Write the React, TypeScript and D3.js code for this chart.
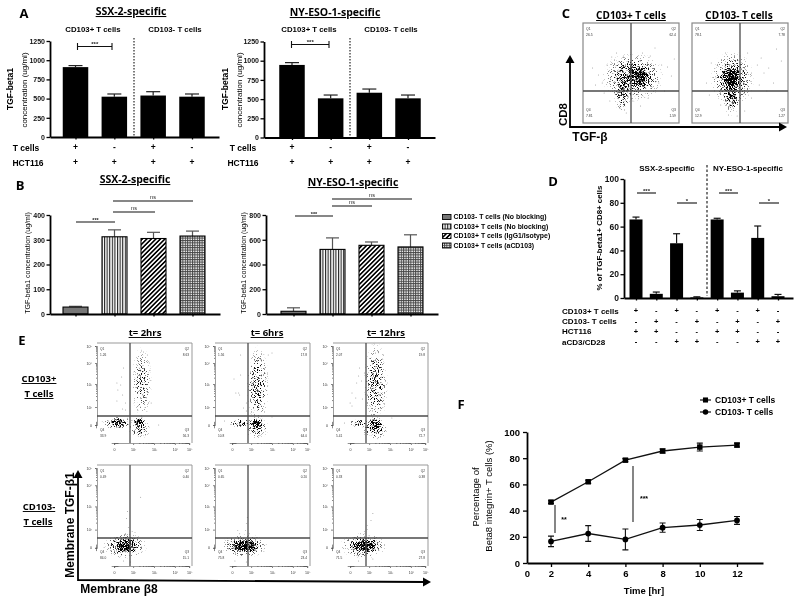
import React, { useEffect, useRef } from 'react'
import * as d3 from 'd3'

// panel A
const cellGroups = ['p1', 'p2', 'p3', 'p4']
const a1Values = [910, 525, 540, 525]
const a1Upper = [930, 560, 590, 560]
const a2Values = [945, 510, 583, 510]
const a2Upper = [975, 553, 631, 553]
const aTicks = [0, 250, 500, 750, 1000, 1250]
const aTCells = ['+', '-', '+', '-']
const aHct = ['+', '+', '+', '+']

// panel B
const b1Values = [28, 312, 305, 315]
const b1Upper = [31, 340, 330, 335]
const b2Values = [22, 522, 555, 542]
const b2Upper = [50, 615, 582, 640]
const b1Ticks = [0, 100, 200, 300, 400]
const b2Ticks = [0, 200, 400, 600, 800]
const bLegend = ['CD103- T cells (No blocking)', 'CD103+ T cells (No blocking)', 'CD103+  T cells (IgG1/Isotype)', 'CD103+ T cells (aCD103)']

// panel D
const dGroups = ['d1', 'd2', 'd3', 'd4', 'd5', 'd6', 'd7', 'd8']
const dValues = [66, 3.5, 46, 0.5, 66, 4.5, 50.5, 1.5]
const dUpper = [68, 5, 54, 1, 67, 6, 60.5, 3]
const dTicks = [0, 20, 40, 60, 80, 100]
const dRowNames = ['CD103+ T cells', 'CD103- T cells', 'HCT116', 'aCD3/CD28']
const dRows = [
  ['+', '-', '+', '-', '+', '-', '+', '-'],
  ['-', '+', '-', '+', '-', '+', '-', '+'],
  ['+', '+', '-', '-', '+', '+', '-', '-'],
  ['-', '-', '+', '+', '-', '-', '+', '+'],
]

// panel F
const hours = [2, 4, 6, 8, 10, 12]
const fTicks = [0, 20, 40, 60, 80, 100]
const fPosValues = [46.5, 62, 78.5, 85.5, 88.5, 90]
const fPosErr = [1, 1.2, 1.2, 1.5, 3, 1.5]
const fNegValues = [16.5, 22.5, 18, 27, 29, 32.5]
const fNegErr = [4, 6, 8, 3.5, 4.2, 3]

// flow cytometry: quadrant labels, clouds and stray events, as fractions of each plot
const c1Quads = ['26.5', '62.4', '7.81', '1.59']
const c1Clouds = [[0.58, 0.53, 0.14, 0.12, 0.95], [0.52, 0.54, 0.33, 0.25, 0.6], [0.41, 0.72, 0.09, 0.18, 0.5]]
const c1Dots = [[0.1, 0.45], [0.16, 0.52], [0.2, 0.6], [0.13, 0.62], [0.25, 0.42], [0.3, 0.34], [0.35, 0.3], [0.42, 0.33], [0.62, 0.3], [0.7, 0.33], [0.82, 0.42], [0.88, 0.44], [0.92, 0.53], [0.79, 0.6], [0.85, 0.68], [0.6, 0.83], [0.38, 0.85], [0.45, 0.9], [0.28, 0.78], [0.33, 0.7], [0.52, 0.78], [0.95, 0.36], [0.68, 0.75], [0.22, 0.7], [0.75, 0.25]]
const c2Quads = ['78.1', '7.78', '12.9', '1.27']
const c2Clouds = [[0.41, 0.56, 0.11, 0.15, 1], [0.42, 0.56, 0.23, 0.28, 0.6], [0.41, 0.76, 0.09, 0.17, 0.55]]
const c2Dots = [[0.2, 0.4], [0.25, 0.55], [0.15, 0.6], [0.18, 0.72], [0.3, 0.82], [0.55, 0.88], [0.62, 0.75], [0.7, 0.62], [0.68, 0.42], [0.75, 0.5], [0.8, 0.45], [0.88, 0.26], [0.93, 0.38], [0.58, 0.3], [0.5, 0.33], [0.35, 0.3], [0.85, 0.6], [0.72, 0.35], [0.38, 0.92], [0.47, 0.93], [0.78, 0.68], [0.62, 0.5]]

const eQuads = [
  ['1.26', '8.63', '33.9', '56.3'], ['1.56', '17.8', '10.8', '64.0'], ['2.07', '19.8', '5.41', '72.7'],
  ['0.49', '0.40', '84.0', '15.1'], ['0.65', '0.20', '75.8', '23.4'], ['0.33', '0.38', '71.5', '27.8'],
]
const eClouds = [
  [[0.22, 0.8, 0.11, 0.05, 0.75], [0.445, 0.795, 0.07, 0.055, 1], [0.47, 0.4, 0.11, 0.37, 0.42], [0.45, 0.86, 0.12, 0.1, 0.5], [0.22, 0.8, 0.18, 0.07, 0.5]],
  [[0.44, 0.8, 0.07, 0.05, 1], [0.27, 0.8, 0.13, 0.045, 0.65], [0.45, 0.42, 0.12, 0.4, 0.48], [0.44, 0.85, 0.13, 0.11, 0.5]],
  [[0.45, 0.805, 0.08, 0.06, 1], [0.27, 0.8, 0.11, 0.045, 0.5], [0.45, 0.4, 0.13, 0.42, 0.52], [0.44, 0.86, 0.14, 0.11, 0.55]],
  [[0.295, 0.8, 0.13, 0.07, 1.05], [0.295, 0.8, 0.24, 0.13, 0.6]],
  [[0.31, 0.8, 0.15, 0.07, 1.05], [0.31, 0.8, 0.25, 0.12, 0.6]],
  [[0.32, 0.8, 0.14, 0.07, 1.05], [0.32, 0.8, 0.25, 0.13, 0.6]],
]
const eDots = [
  [[0.21, 0.4], [0.22, 0.47], [0.25, 0.42], [0.27, 0.52], [0.26, 0.34], [0.28, 0.25], [0.3, 0.6], [0.27, 0.66], [0.21, 0.58], [0.3, 0.67], [0.12, 0.78], [0.57, 0.6], [0.55, 0.2], [0.53, 0.12], [0.49, 0.09], [0.65, 0.82]],
  [[0.2, 0.36], [0.25, 0.5], [0.27, 0.32], [0.26, 0.52], [0.22, 0.5], [0.33, 0.6], [0.3, 0.65], [0.27, 0.12], [0.6, 0.1], [0.56, 0.12], [0.6, 0.74], [0.1, 0.78], [0.33, 0.68]],
  [[0.2, 0.5], [0.25, 0.4], [0.27, 0.33], [0.3, 0.38], [0.24, 0.55], [0.18, 0.6], [0.2, 0.63], [0.31, 0.56], [0.33, 0.3], [0.28, 0.25], [0.53, 0.12], [0.52, 0.16], [0.62, 0.75], [0.12, 0.8]],
  [[0.31, 0.53], [0.32, 0.46], [0.46, 0.32], [0.33, 0.62], [0.3, 0.68], [0.37, 0.66], [0.4, 0.67], [0.28, 0.95], [0.35, 0.96]],
  [[0.33, 0.58], [0.34, 0.52], [0.24, 0.65], [0.26, 0.68], [0.32, 0.65], [0.36, 0.68], [0.33, 0.96], [0.21, 0.95]],
  [[0.42, 0.48], [0.4, 0.55], [0.36, 0.6], [0.33, 0.66], [0.29, 0.68], [0.36, 0.64], [0.38, 0.7], [0.42, 0.93], [0.27, 0.95]],
]
const flowDecades = [0, 2, 3, 4, 5]
const flowLabels = ['0', '10²', '10³', '10⁴', '10⁵']

const SANS = '"Liberation Sans", Arial, sans-serif'
const HEAD = '"Open Sans", sans-serif'

type Sel = d3.Selection<SVGGElement, unknown, null, undefined>

function label(g: Sel, x: number, y: number, s: string, size: number, opts: any = {}) {
  const t = g.append('text')
    .attr('x', x).attr('y', y)
    .attr('font-family', opts.family || SANS)
    .attr('font-size', size)
    .attr('font-weight', opts.weight || 'bold')
    .attr('text-anchor', opts.anchor || 'middle')
    .attr('fill', opts.fill || '#000')
    .text(s)
  if (opts.underline) t.attr('text-decoration', 'underline')
  if (opts.rotate) t.attr('transform', `rotate(-90 ${x} ${y})`)
  return t
}

// point scale whose range is the whole axis and whose points land on the given first/last centres
function groupScale(cats: string[], start: number, end: number, first: number, last: number) {
  const step = (last - first) / (cats.length - 1)
  const pad = ((end - start) / step - (cats.length - 1)) / 2
  const align = (first - start) / (end - start - step * (cats.length - 1))
  return d3.scalePoint().domain(cats).range([start, end]).padding(pad).align(align)
}

function barPanel(g: Sel, cfg: any) {
  const x = groupScale(cfg.cats, cfg.x0, cfg.x1, cfg.first, cfg.last)
  const y = d3.scaleLinear().domain([0, cfg.max]).range([cfg.y0, cfg.y1])

  const bars = g.append('g')
  cfg.values.forEach((v: number, i: number) => {
    const cx = x(cfg.cats[i])!
    const fill = cfg.fills ? cfg.fills[i] : '#000'
    bars.append('line').attr('x1', cx).attr('x2', cx).attr('y1', y(v)).attr('y2', y(cfg.upper[i])).attr('stroke', cfg.errColor || '#222').attr('stroke-width', 1.2)
    bars.append('line').attr('x1', cx - cfg.cap).attr('x2', cx + cfg.cap).attr('y1', y(cfg.upper[i])).attr('y2', y(cfg.upper[i])).attr('stroke', cfg.errColor || '#222').attr('stroke-width', 1.2)
    bars.append('rect').attr('x', cx - cfg.w / 2).attr('width', cfg.w).attr('y', y(v)).attr('height', cfg.y0 - y(v))
      .attr('fill', fill).attr('stroke', '#000').attr('stroke-width', cfg.fills ? 1.1 : 0)
  })

  const yAxis = g.append('g').attr('transform', `translate(${cfg.x0},0)`)
    .call(d3.axisLeft(y).tickValues(cfg.ticks).tickSize(3.5).tickSizeOuter(0).tickFormat(d3.format('d') as any))
  const xAxis = g.append('g').attr('transform', `translate(0,${cfg.y0})`)
    .call(d3.axisBottom(x).tickSize(2.5).tickSizeOuter(0).tickFormat(() => ''))
  ;[yAxis, xAxis].forEach(a => {
    a.select('.domain').attr('stroke-width', cfg.axisWidth || 1.8).attr('stroke', '#000')
    a.selectAll('.tick line').attr('stroke-width', 1.3).attr('stroke', '#000')
  })
  yAxis.selectAll('text').attr('font-family', SANS).attr('font-weight', 'bold').attr('font-size', cfg.tickSize || 7).attr('dx', 1.5).attr('fill', '#111')
  return x
}

function signRows(g: Sel, x: any, cats: string[], rows: string[][], ys: number[], size = 9) {
  rows.forEach((r, ri) => r.forEach((s, i) => {
    label(g, x(cats[i]), ys[ri] + size * 0.33, s, size)
  }))
}

function bracket(g: Sel, x1: number, x2: number, y: number, cap: number, stars: string, size = 7) {
  g.append('line').attr('x1', x1).attr('x2', x2).attr('y1', y).attr('y2', y).attr('stroke', '#111').attr('stroke-width', 1.1)
  if (cap) {
    ;[x1, x2].forEach(v => g.append('line').attr('x1', v).attr('x2', v).attr('y1', y - cap).attr('y2', y + cap).attr('stroke', '#111').attr('stroke-width', 1.1))
  }
  label(g, (x1 + x2) / 2, y + (stars === 'ns' ? -2 : -0.5), stars, size, { weight: stars === 'ns' ? 'normal' : 'bold', fill: '#222' })
}

function flowPlot(clouds: Sel, g: Sel, box: number[], vLine: number, hLine: number, quads: string[], cl: number[][], dots: number[][], withAxes: boolean, qSize: number) {
  const [x0, x1, y0, y1] = box
  const fx = d3.scaleLinear().domain([0, 1]).range([x0, x1])
  const fy = d3.scaleLinear().domain([0, 1]).range([y0, y1])

  cl.forEach(c => {
    clouds.append('ellipse').attr('cx', fx(c[0])).attr('cy', fy(c[1]))
      .attr('rx', c[2] * (x1 - x0)).attr('ry', c[3] * (y1 - y0))
      .attr('fill', `url(#cloud${Math.round(Math.min(c[4], 1.2) * 20)})`)
  })
  g.append('g').selectAll('circle').data(dots).join('circle')
    .attr('cx', d => fx(d[0])).attr('cy', d => fy(d[1])).attr('r', 0.45).attr('fill', '#666')

  if (withAxes) {
    g.append('path').attr('d', `M${x0},${y0}H${x1}V${y1}`).attr('fill', 'none').attr('stroke', '#999').attr('stroke-width', 1)
    const yTick = d3.scaleLinear().domain(flowDecades).range([0.82, 0.64, 0.41, 0.2, 0.03].map(fy))
    const xTick = d3.scaleLinear().domain(flowDecades).range([0.18, 0.38, 0.6, 0.82, 0.97].map(fx))
    const minor = d3.range(2, 5).flatMap(d => d3.range(2, 10).map(m => d + Math.log10(m)))
    const near0 = [-0.25, -0.15, -0.05, 0.05, 0.15, 0.25, 0.35]
    const lx = g.append('g').attr('transform', `translate(${x0},0)`).call(d3.axisLeft(yTick).tickValues(flowDecades).tickSize(2).tickFormat((_, i) => flowLabels[i]))
    const by = g.append('g').attr('transform', `translate(0,${y1})`).call(d3.axisBottom(xTick).tickValues(flowDecades).tickSize(2).tickFormat((_, i) => flowLabels[i]))
    const lm = g.append('g').attr('transform', `translate(${x0},0)`).call(d3.axisLeft(yTick).tickValues(minor.concat(near0)).tickSize(1).tickFormat(() => ''))
    const bm = g.append('g').attr('transform', `translate(0,${y1})`).call(d3.axisBottom(xTick).tickValues(minor.concat(near0)).tickSize(1).tickFormat(() => ''))
    ;[lx, by, lm, bm].forEach(a => {
      a.select('.domain').attr('stroke', '#999').attr('stroke-width', 0.8)
      a.selectAll('.tick line').attr('stroke', '#333').attr('stroke-width', 0.6)
      a.selectAll('text').attr('font-family', SANS).attr('font-size', 3.6).attr('fill', '#333')
    })
  } else {
    g.append('rect').attr('x', x0).attr('y', y0).attr('width', x1 - x0).attr('height', y1 - y0).attr('fill', 'none').attr('stroke', '#888').attr('stroke-width', 1.2)
  }

  g.append('line').attr('x1', vLine).attr('x2', vLine).attr('y1', y0).attr('y2', y1).attr('stroke', '#4a4a4a').attr('stroke-width', 1.3)
  g.append('line').attr('x1', x0).attr('x2', x1).attr('y1', hLine).attr('y2', hLine).attr('stroke', '#4a4a4a').attr('stroke-width', 1.3)

  const o = { weight: 'normal', fill: '#333' }
  const qn = ['Q1', 'Q2', 'Q4', 'Q3']
  quads.forEach((q, i) => {
    const right = i === 1 || i === 3
    const px = right ? x1 - 3 : x0 + 3
    const py = i < 2 ? [0.065, 0.125] : [0.875, 0.935]
    label(g, px, fy(py[0]), qn[i], qSize, { ...o, anchor: right ? 'end' : 'start' })
    label(g, px, fy(py[1]), q, qSize, { ...o, anchor: right ? 'end' : 'start' })
  })
}

function arrowAxes(g: Sel, xV: number, yTop: number, yB: number, xEnd: number, yEnd: number) {
  g.append('path').attr('d', `M${xV},${yTop + 6}V${yB}L${xEnd - 6},${yEnd}`).attr('fill', 'none').attr('stroke', '#000').attr('stroke-width', 1.8)
  g.append('path').attr('d', `M${xV},${yTop}l-4.5,8h9z`).attr('fill', '#000')
  g.append('path').attr('d', `M${xEnd},${yEnd}l-8,-4.5v9z`).attr('fill', '#000')
}

function draw(node: SVGSVGElement) {
  const svg = d3.select(node)
  svg.selectAll('*').remove()
  const root = svg.append('g') as unknown as Sel
  const defs = svg.append('defs')

  // fill patterns for panel B
  const pat = (id: string, w: number, h: number, transform: string | null, build: (p: any) => void) => {
    const p = defs.append('pattern').attr('id', id).attr('patternUnits', 'userSpaceOnUse').attr('width', w).attr('height', h)
    if (transform) p.attr('patternTransform', transform)
    p.append('rect').attr('width', w).attr('height', h).attr('fill', '#fff')
    build(p)
  }
  pat('pV', 2.6, 2.6, null, p => p.append('rect').attr('width', 1.1).attr('height', 2.6).attr('fill', '#222'))
  pat('pD', 3.2, 3.2, 'rotate(45)', p => p.append('rect').attr('width', 1.6).attr('height', 3.2).attr('fill', '#000'))
  pat('pG', 2.4, 2.4, null, p => {
    p.append('rect').attr('width', 1).attr('height', 2.4).attr('fill', '#444')
    p.append('rect').attr('width', 2.4).attr('height', 1).attr('fill', '#444')
  })
  const bFills = ['#777', 'url(#pV)', 'url(#pD)', 'url(#pG)']

  // stipple: cloud density thresholded against noise, so clouds read as single events
  const f = defs.append('filter').attr('id', 'stipple').attr('filterUnits', 'userSpaceOnUse')
    .attr('x', 0).attr('y', 0).attr('width', 800).attr('height', 603).attr('color-interpolation-filters', 'sRGB')
  f.append('feTurbulence').attr('type', 'fractalNoise').attr('baseFrequency', 1.3).attr('numOctaves', 1).attr('seed', 4).attr('result', 'n')
  f.append('feColorMatrix').attr('in', 'n').attr('type', 'matrix')
    .attr('values', '0 0 0 0 0  0 0 0 0 0  0 0 0 0 0  3 0 0 0 -0.95').attr('result', 'na')
  f.append('feComposite').attr('in', 'SourceGraphic').attr('in2', 'na').attr('operator', 'arithmetic')
    .attr('k1', 0).attr('k2', 1).attr('k3', 1).attr('k4', -1).attr('result', 'c')
  const ct = f.append('feComponentTransfer').attr('in', 'c').attr('result', 't')
  ct.append('feFuncA').attr('type', 'linear').attr('slope', 3)
  f.append('feGaussianBlur').attr('in', 't').attr('stdDeviation', 0.3)
  d3.range(1, 25).forEach(k => {
    const grad = defs.append('radialGradient').attr('id', `cloud${k}`)
    const a = k / 20
    grad.append('stop').attr('offset', '0%').attr('stop-color', '#000').attr('stop-opacity', Math.min(a, 1))
    grad.append('stop').attr('offset', '50%').attr('stop-color', '#000').attr('stop-opacity', Math.min(a * 0.62, 1))
    grad.append('stop').attr('offset', '100%').attr('stop-color', '#000').attr('stop-opacity', 0)
  })

  // panel letters
  label(root, 24, 18, 'A', 13, { family: HEAD })
  label(root, 20, 190, 'B', 13, { family: HEAD })
  label(root, 566, 18, 'C', 13, { family: HEAD })
  label(root, 553, 186, 'D', 13, { family: HEAD })
  label(root, 22, 345, 'E', 13, { family: HEAD })
  label(root, 461, 409, 'F', 13, { family: HEAD })

  // A
  const a1 = barPanel(root, { cats: cellGroups, x0: 50, x1: 219, first: 75.5, last: 192, y0: 137, y1: 41, max: 1250, values: a1Values, upper: a1Upper, ticks: aTicks, w: 25.5, cap: 7, tickSize: 7 })
  const a2 = barPanel(root, { cats: cellGroups, x0: 264, x1: 435, first: 292, last: 408, y0: 137.5, y1: 41.5, max: 1250, values: a2Values, upper: a2Upper, ticks: aTicks, w: 25.5, cap: 7, tickSize: 7 })
  label(root, 131, 15, 'SSX-2-specific', 10.5, { family: HEAD, underline: true })
  label(root, 335, 16, 'NY-ESO-1-specific', 10.5, { family: HEAD, underline: true })
  label(root, 93, 32, 'CD103+ T cells', 7.8)
  label(root, 175, 32, 'CD103- T cells', 7.8)
  label(root, 309, 32, 'CD103+ T cells', 7.8)
  label(root, 391, 32, 'CD103- T cells', 7.8)
  ;[[134, 38, 137], [350, 38, 137]].forEach(d => root.append('line').attr('x1', d[0]).attr('x2', d[0]).attr('y1', d[1]).attr('y2', d[2]).attr('stroke', '#111').attr('stroke-width', 1.1).attr('stroke-dasharray', '1.5 1.5'))
  bracket(root, 77.5, 112, 46.5, 3.5, '***', 6)
  bracket(root, 291.5, 329, 44.5, 3.5, '***', 6)
  signRows(root, a1, cellGroups, [aTCells, aHct], [147.5, 162.5], 8.5)
  signRows(root, a2, cellGroups, [aTCells, aHct], [147.5, 162.5], 8.5)
  label(root, 26, 151, 'T cells', 8.5)
  label(root, 28, 166, 'HCT116', 8.5)
  label(root, 243, 151, 'T cells', 8.5)
  label(root, 243, 166, 'HCT116', 8.5)
  label(root, 13, 89, 'TGF-beta1', 8.5, { rotate: true })
  label(root, 26.5, 90, 'concentration (ug/ml)', 8, { rotate: true, weight: 'normal' })
  label(root, 228, 89, 'TGF-beta1', 8.5, { rotate: true })
  label(root, 241.5, 90, 'concentration (ug/ml)', 8, { rotate: true, weight: 'normal' })

  // B
  barPanel(root, { cats: cellGroups, x0: 50, x1: 220, first: 75.5, last: 192.5, y0: 314, y1: 215, max: 400, values: b1Values, upper: b1Upper, ticks: b1Ticks, w: 25, cap: 6.5, fills: bFills, errColor: '#555', tickSize: 7 })
  barPanel(root, { cats: cellGroups, x0: 266, x1: 438, first: 293.5, last: 410.5, y0: 314, y1: 215, max: 800, values: b2Values, upper: b2Upper, ticks: b2Ticks, w: 25, cap: 6.5, fills: bFills, errColor: '#555', tickSize: 7 })
  label(root, 135, 183, 'SSX-2-specific', 10.5, { family: HEAD, underline: true })
  label(root, 353, 186, 'NY-ESO-1-specific', 10.5, { family: HEAD, underline: true })
  bracket(root, 76, 115, 222, 0, '***', 5.5)
  bracket(root, 113, 155, 212, 0, 'ns', 5.5)
  bracket(root, 113, 193, 201, 0, 'ns', 5.5)
  bracket(root, 295, 333, 216, 0, '***', 5.5)
  bracket(root, 332, 372, 206, 0, 'ns', 5.5)
  bracket(root, 332, 412, 199, 0, 'ns', 5.5)
  label(root, 30, 263, 'TGF-beta1 concentration (ug/ml)', 7, { rotate: true, weight: 'normal' })
  label(root, 246, 263, 'TGF-beta1 concentration (ug/ml)', 7, { rotate: true, weight: 'normal' })
  const legendY = d3.scalePoint().domain(bLegend).range([217, 245.5])
  bLegend.forEach((s, i) => {
    root.append('rect').attr('x', 442.5).attr('y', legendY(s)! - 2.5).attr('width', 8.5).attr('height', 5).attr('fill', bFills[i]).attr('stroke', '#000').attr('stroke-width', 0.9)
    label(root, 453.5, legendY(s)! + 2.3, s, 6.9, { anchor: 'start' })
  })

  // C
  const clouds = root.append('g').attr('filter', 'url(#stipple)') as unknown as Sel
  const flow = root.append('g') as unknown as Sel
  label(root, 631, 19, 'CD103+ T cells', 10, { family: HEAD, underline: true })
  label(root, 739, 19, 'CD103- T cells', 10, { family: HEAD, underline: true })
  flowPlot(clouds, flow, [583, 679, 23, 123], 631, 91, c1Quads, c1Clouds, c1Dots, false, 3.4)
  flowPlot(clouds, flow, [692, 788, 23, 123], 740, 91, c2Quads, c2Clouds, c2Dots, false, 3.4)
  arrowAxes(root, 570, 55, 127, 787, 127)
  label(root, 567, 114.5, 'CD8', 11.5, { rotate: true })
  label(root, 590, 141, 'TGF-β', 12)

  // D
  const dx = barPanel(root, { cats: dGroups, x0: 624, x1: 793, first: 636, last: 778, y0: 298, y1: 179, max: 100, values: dValues, upper: dUpper, ticks: dTicks, w: 13, cap: 3.5, tickSize: 8.5, errColor: '#111' })
  label(root, 667, 171, 'SSX-2-specific', 8)
  label(root, 748, 171, 'NY-ESO-1-specific', 8)
  root.append('line').attr('x1', 707).attr('x2', 707).attr('y1', 165).attr('y2', 296).attr('stroke', '#111').attr('stroke-width', 1.1).attr('stroke-dasharray', '2.5 2')
  bracket(root, 637, 656, 193, 0, '***', 6)
  bracket(root, 677, 697, 203, 0, '*', 6)
  bracket(root, 719, 738, 193, 0, '***', 6)
  bracket(root, 759, 779, 203, 0, '*', 6)
  label(root, 602, 238, '% of  TGF-beta1+ CD8+ cells', 7.9, { rotate: true })
  signRows(root, dx, dGroups, dRows, [311, 321.5, 331.5, 342], 7.5)
  dRowNames.forEach((s, i) => label(root, 562, [313.5, 324, 334, 344.5][i], s, 8, { anchor: 'start' }))

  // E
  const eBoxes = [[97, 192], [215, 310], [333, 428]]
  const eV = [130, 248, 366]
  eBoxes.forEach((b, i) => {
    flowPlot(clouds, flow, [b[0], b[1], 343, 443], eV[i], 416, eQuads[i], eClouds[i], eDots[i], true, 3.2)
    flowPlot(clouds, flow, [b[0], b[1], 465, 566], eV[i], 538, eQuads[i + 3], eClouds[i + 3], eDots[i + 3], true, 3.2)
  })
  label(root, 145, 336, 't= 2hrs', 9.5, { family: HEAD, underline: true })
  label(root, 267, 336, 't= 6hrs', 9.5, { family: HEAD, underline: true })
  label(root, 386, 336, 't= 12hrs', 9.5, { family: HEAD, underline: true })
  label(root, 39, 382, 'CD103+', 9.5, { family: HEAD, underline: true })
  label(root, 39, 397, 'T cells', 9.5, { family: HEAD, underline: true })
  label(root, 39, 510, 'CD103-', 9.5, { family: HEAD, underline: true })
  label(root, 38, 525, 'T cells', 9.5, { family: HEAD, underline: true })
  arrowAxes(root, 78, 470, 580, 431, 582)
  label(root, 74, 525, 'Membrane TGF-β1', 12, { rotate: true })
  label(root, 119, 593, 'Membrane β8', 12)

  // F
  const fx = d3.scaleLinear().domain([0, 2, 12, 13.4]).range([527, 551, 737, 763])
  const fy = d3.scaleLinear().domain([0, 100]).range([563, 432])
  const line = d3.line<number>().x((_, i) => fx(hours[i])).y(d => fy(d))
  const fG = root.append('g')
  ;[[fPosValues, fPosErr], [fNegValues, fNegErr]].forEach(([vals, errs]) => {
    fG.append('path').attr('d', line(vals)!).attr('fill', 'none').attr('stroke', '#111').attr('stroke-width', 1.3)
    vals.forEach((v, i) => {
      const cx = fx(hours[i])
      fG.append('path').attr('stroke', '#111').attr('stroke-width', 1.1).attr('fill', 'none')
        .attr('d', `M${cx},${fy(v - errs[i])}V${fy(v + errs[i])}M${cx - 3},${fy(v - errs[i])}h6M${cx - 3},${fy(v + errs[i])}h6`)
    })
  })
  const sym = (type: any, size: number) => d3.symbol().type(type).size(size)()!
  fG.selectAll('.pos').data(fPosValues).join('path').attr('transform', (d, i) => `translate(${fx(hours[i])},${fy(d)})`).attr('d', sym(d3.symbolSquare, 30)).attr('fill', '#000')
  fG.selectAll('.neg').data(fNegValues).join('path').attr('transform', (d, i) => `translate(${fx(hours[i])},${fy(d)})`).attr('d', sym(d3.symbolCircle, 26)).attr('fill', '#000')
  const fAxY = root.append('g').attr('transform', 'translate(527,0)').call(d3.axisLeft(fy).tickValues(fTicks).tickSize(4).tickSizeOuter(0))
  const fAxX = root.append('g').attr('transform', 'translate(0,563)').call(d3.axisBottom(fx).tickValues([0, ...hours]).tickSize(4).tickSizeOuter(0))
  ;[fAxY, fAxX].forEach(a => {
    a.select('.domain').attr('stroke-width', 1.8)
    a.selectAll('.tick line').attr('stroke-width', 1.3)
    a.selectAll('text').attr('font-family', SANS).attr('font-weight', 'bold').attr('font-size', 9.5).attr('fill', '#000')
  })
  fAxX.selectAll('.tick').filter(d => d === 0).select('line').remove()
  label(root, 479, 497, 'Percentage of', 9.5, { rotate: true, weight: 'normal' })
  label(root, 492, 496, 'Beta8 integrin+ T cells (%)', 9.5, { rotate: true, weight: 'normal' })
  label(root, 644, 594, 'Time [hr]', 9.5)
  root.append('line').attr('x1', 555).attr('x2', 555).attr('y1', 505).attr('y2', 533).attr('stroke', '#222').attr('stroke-width', 1.1)
  root.append('line').attr('x1', 633).attr('x2', 633).attr('y1', 466).attr('y2', 522).attr('stroke', '#222').attr('stroke-width', 1.1)
  label(root, 564, 522, '**', 7)
  label(root, 644, 501, '***', 7)
  ;[400, 412].forEach((ly, i) => {
    root.append('line').attr('x1', 700).attr('x2', 711).attr('y1', ly).attr('y2', ly).attr('stroke', '#111').attr('stroke-width', 1.2)
    root.append('path').attr('transform', `translate(705.5,${ly})`).attr('d', i === 0 ? sym(d3.symbolSquare, 26) : sym(d3.symbolCircle, 24)).attr('fill', '#000')
    label(root, 715, ly + 2.9, ['CD103+ T cells', 'CD103- T cells'][i], 8.5, { anchor: 'start' })
  })
}

export default function App() {
  const ref = useRef<SVGSVGElement>(null)
  useEffect(() => {
    if (ref.current) draw(ref.current)
  }, [])
  return (
    <svg ref={ref} width={800} height={603}
      style={{ position: 'absolute', left: 0, top: 0, background: '#fff', filter: 'blur(0.4px)' }} />
  )
}
